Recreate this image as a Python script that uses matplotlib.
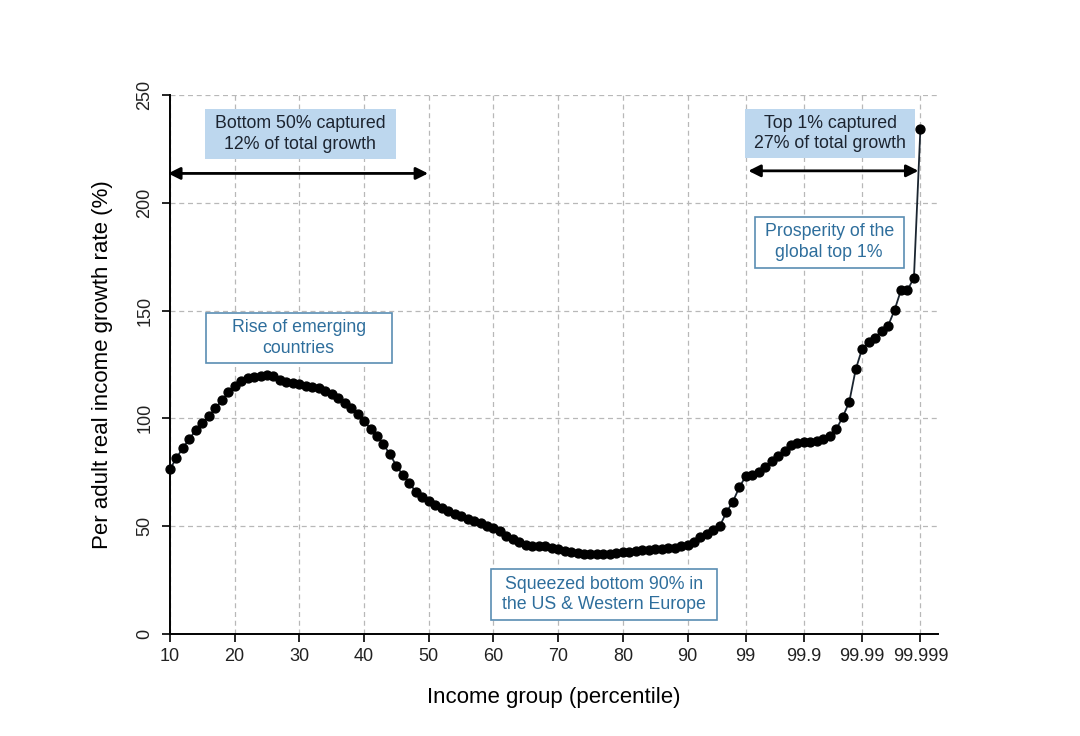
import matplotlib
matplotlib.use('Agg')
import matplotlib.pyplot as plt
from matplotlib.patches import Rectangle

plt.rcParams['font.family'] = ['Liberation Sans', 'DejaVu Sans']

# growth rate per income group, points evenly spaced by index
# p10..p99, then 99.1..99.9, 99.91..99.99, 99.991..99.999
growth = [
    76.5, 81.6, 86.4, 90.5, 94.6, 98.0, 101.0, 104.6, 108.3, 112.0,   # p10-p19
    115.0, 117.3, 118.8, 119.3, 119.6, 120.0, 119.6, 118.0, 117.0, 116.5,  # p20-p29
    115.8, 115.1, 114.5, 113.9, 112.7, 111.1, 109.3, 107.0, 104.9, 102.0,  # p30-p39
    98.7, 95.2, 91.8, 87.9, 83.3, 78.0, 73.7, 69.9, 66.0, 63.7,       # p40-p49
    61.5, 60.0, 58.3, 57.0, 55.7, 54.5, 53.3, 52.3, 51.4, 50.3,       # p50-p59
    49.2, 47.6, 45.6, 44.0, 42.6, 41.5, 41.0, 40.9, 40.7, 40.0,       # p60-p69
    39.3, 38.6, 38.0, 37.5, 37.2, 37.0, 37.0, 37.1, 37.3, 37.5,       # p70-p79
    37.8, 38.2, 38.6, 38.9, 39.1, 39.3, 39.5, 39.7, 40.0, 40.6,       # p80-p89
    41.5, 42.8, 44.8, 46.4, 48.2, 50.1, 56.4, 61.3, 68.0,             # p90-p98
    73.2,                                                             # p99
    73.7, 75.2, 77.3, 80.2, 82.7, 84.8, 87.5, 88.7, 89.0,             # 99.1-99.9
    89.0, 89.5, 90.3, 91.9, 95.0, 100.7, 107.6, 122.7, 132.4,         # 99.91-99.99
    135.2, 137.5, 140.6, 142.9, 150.2, 159.5, 159.5, 165.2, 234.4,    # 99.991-99.999
]
tick_pos = [0, 10, 20, 30, 40, 50, 60, 70, 80, 89, 98, 107, 116]
tick_labels = ['10', '20', '30', '40', '50', '60', '70', '80', '90',
               '99', '99.9', '99.99', '99.999']
y_ticks = [0, 50, 100, 150, 200, 250]

fig = plt.figure(figsize=(10.8, 7.36), dpi=100)
ax = fig.add_axes([0.1574, 0.1386, 0.711, 0.7324])

ax.plot(range(len(growth)), growth, color='#1b2530', lw=1.3,
        marker='o', ms=6.4, mfc='black', mec='black', zorder=5, clip_on=False)

ax.set_xlim(0, 118.7)
ax.set_ylim(0, 250)
ax.set_xticks(tick_pos)
ax.set_xticklabels(tick_labels, fontsize=13)
ax.set_yticks(y_ticks)
ax.set_yticklabels([str(v) for v in y_ticks], fontsize=13, rotation=90, va='center')
ax.tick_params(direction='out', length=6, width=1.2, colors='black', labelcolor='#222222')
ax.tick_params(axis='x', pad=4)
ax.tick_params(axis='y', pad=6)

ax.grid(True, color='#b8b8b8', ls=(0, (4, 3)), lw=0.9)
ax.set_axisbelow(True)
for s in ['top', 'right']:
    ax.spines[s].set_visible(False)
for s in ['left', 'bottom']:
    ax.spines[s].set_linewidth(1.4)

ax.set_xlabel('Income group (percentile)', fontsize=16, labelpad=16)
ax.set_ylabel('Per adult real income growth rate (%)', fontsize=16, labelpad=17)


def label_box(x0, x1, y0, y1, text, fill, edge, tcolor):
    ax.add_patch(Rectangle((x0, y0), x1 - x0, y1 - y0, facecolor=fill,
                           edgecolor=edge, lw=1.2, zorder=3, clip_on=False))
    ax.text((x0 + x1) / 2, (y0 + y1) / 2, text, ha='center', va='center',
            fontsize=12.8, color=tcolor, linespacing=1.28, zorder=4)


# shares captured
label_box(5.4, 34.9, 220.3, 243.6, 'Bottom 50% captured\n12% of total growth',
          '#bdd7ee', 'none', '#1c2430')
label_box(88.9, 115.15, 220.7, 243.6, 'Top 1% captured\n27% of total growth',
          '#bdd7ee', 'none', '#1c2430')

arr = dict(arrowstyle='<|-|>', color='black', lw=2, mutation_scale=18, shrinkA=0, shrinkB=0)
ax.annotate('', xy=(-0.3, 213.6), xytext=(39.9, 213.6), arrowprops=arr, annotation_clip=False)
ax.annotate('', xy=(89.4, 214.8), xytext=(115.7, 214.8), arrowprops=arr, annotation_clip=False)

# descriptive boxes
label_box(5.5, 34.3, 125.6, 149.0, 'Rise of emerging\ncountries',
          'white', '#5a8db3', '#2e6e9c')
label_box(90.4, 113.4, 169.7, 193.6, 'Prosperity of the\nglobal top 1%',
          'white', '#5a8db3', '#2e6e9c')
label_box(49.6, 84.6, 6.5, 30.1, 'Squeezed bottom 90% in\nthe US & Western Europe',
          'white', '#5a8db3', '#2e6e9c')

fig.savefig('out.png', dpi=100, facecolor='white')
